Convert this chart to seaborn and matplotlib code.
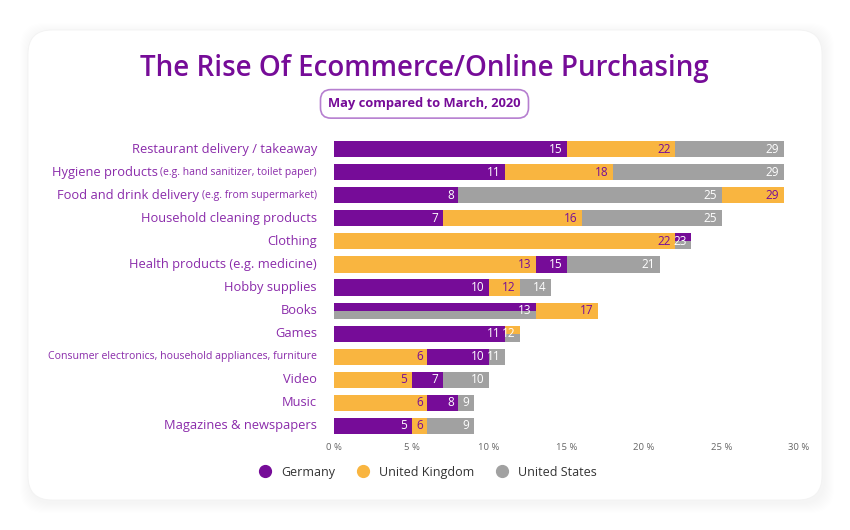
import matplotlib
matplotlib.use("Agg")
import matplotlib.pyplot as plt
import matplotlib.transforms as mtransforms
from matplotlib.patches import FancyBboxPatch
from matplotlib.lines import Line2D
import pandas as pd
import seaborn as sns

# data
categories = ["Restaurant delivery / takeaway", "Hygiene products", "Food and drink delivery",
              "Household cleaning products", "Clothing", "Health products (e.g. medicine)",
              "Hobby supplies", "Books", "Games",
              "Consumer electronics, household appliances, furniture",
              "Video", "Music", "Magazines & newspapers"]
label_notes = ["", "(e.g. hand sanitizer, toilet paper)", "(e.g. from supermarket)",
               "", "", "", "", "", "", "", "", "", ""]
germany = [15, 11, 8, 7, 23, 15, 10, 13, 11, 10, 7, 8, 5]
uk = [22, 18, 29, 16, 22, 13, 12, 17, 12, 6, 5, 6, 6]
us = [29, 29, 25, 25, 23, 21, 14, 13, 12, 11, 10, 9, 9]
countries = ["Germany", "United Kingdom", "United States"]
x_ticks = [0, 5, 10, 15, 20, 25, 30]

PURPLE = "#760C98"
ORANGE = "#F9B540"
GRAY = "#A1A1A1"
LABEL = "#8A2BAA"
palette = {"Germany": PURPLE, "United Kingdom": ORANGE, "United States": GRAY}

sns.set_style("white")
plt.rcParams["font.family"] = ["Open Sans", "DejaVu Sans"]

fig = plt.figure(figsize=(8.5, 5.3), dpi=100)
fig.patch.set_facecolor("white")
ident = mtransforms.IdentityTransform()

# card with a soft shadow (pixel coords)
for k in range(10, 0, -1):
    fig.add_artist(FancyBboxPatch((28 + 2, 30 - 3), 794, 470,
                                  boxstyle=f"round,pad={k},rounding_size=24",
                                  transform=ident, facecolor="#000000", alpha=0.004,
                                  edgecolor="none", zorder=-3))
fig.add_artist(FancyBboxPatch((28, 30), 794, 470, boxstyle="round,pad=0,rounding_size=24",
                              transform=ident, facecolor="white", edgecolor="#f2f2f2",
                              linewidth=0.6, zorder=-2))

ax = fig.add_axes([334 / 850, 1 - 437.5 / 530, 465 / 850, 300 / 530])
ax.set_facecolor("none")
ax.set_zorder(2)

# long table, with a draw layer per category (largest behind)
rows = []
for i, cat in enumerate(categories):
    vals = {"Germany": germany[i], "United Kingdom": uk[i], "United States": us[i]}
    order = sorted(countries, key=lambda c: -vals[c])
    for layer, c in enumerate(order):
        rows.append({"category": cat, "country": c, "value": vals[c], "layer": layer})
df = pd.DataFrame(rows)

for layer in range(3):
    sub = df[df["layer"] == layer]
    sns.barplot(data=sub, y="category", x="value", hue="country", order=categories,
                hue_order=countries, palette=palette, dodge=False, width=0.7,
                saturation=1, legend=False, ax=ax, errorbar=None, linewidth=0)

# equal values share the row: split the bar in two halves
color_idx = {matplotlib.colors.to_hex(palette[c]): n for n, c in enumerate(countries)}
groups = {}
for p in ax.patches:
    key = round(p.get_y() + p.get_height() / 2, 2)
    groups.setdefault(key, []).append(p)
for key, ps in groups.items():
    for a in ps:
        for b in ps:
            if a is not b and abs(a.get_width() - b.get_width()) < 1e-9:
                ia = color_idx[matplotlib.colors.to_hex(a.get_facecolor())]
                ib = color_idx[matplotlib.colors.to_hex(b.get_facecolor())]
                if ia < ib:
                    y0, h = a.get_y(), a.get_height()
                    a.set_height(h / 2)
                    b.set_y(y0 + h / 2)
                    b.set_height(h / 2)

# value labels
for i, cat in enumerate(categories):
    vals = {"Germany": germany[i], "United Kingdom": uk[i], "United States": us[i]}
    for v in sorted(set(vals.values())):
        owners = [c for c in countries if vals[c] == v]
        color = PURPLE if owners == ["United Kingdom"] else "white"
        ax.annotate(str(v), (v, i), xytext=(-3, 0), textcoords="offset points",
                    ha="right", va="center", fontsize=8.5, color=color)

ax.set_xlim(0, 30)
ax.set_ylim(len(categories) - 0.5, -0.5)
ax.set_xticks(x_ticks)
ax.set_xticklabels([f"{t} %" for t in x_ticks])
ax.tick_params(axis="x", length=0, labelsize=6.8, labelcolor="#666666", pad=4)
ax.set_yticks([])
ax.set_xlabel("")
ax.set_ylabel("")
sns.despine(ax=ax, left=True, bottom=True)

# category labels, some with a smaller note
fig.canvas.draw()
renderer = fig.canvas.get_renderer()
lab_tr = mtransforms.offset_copy(ax.get_yaxis_transform(), fig=fig, x=-17, y=0, units="dots")
for i, (cat, note) in enumerate(zip(categories, label_notes)):
    size = 7.6 if cat.startswith("Consumer") else 9.3
    if note:
        t = ax.text(0, i, note, transform=lab_tr, ha="right", va="center",
                    fontsize=7.5, color=LABEL)
        w = t.get_window_extent(renderer).width
        tr2 = mtransforms.offset_copy(ax.get_yaxis_transform(), fig=fig, x=-17 - w - 3, y=0,
                                      units="dots")
        ax.text(0, i, cat, transform=tr2, ha="right", va="center", fontsize=size, color=LABEL)
    else:
        ax.text(0, i, cat, transform=lab_tr, ha="right", va="center", fontsize=size, color=LABEL)

# title and subtitle pill
fig.text(0.499, 0.871, "The Rise Of Ecommerce/Online Purchasing", ha="center", va="center",
         fontsize=20, fontweight="semibold", color=PURPLE)
fig.text(0.4994, 0.804, "May compared to March, 2020", ha="center", va="center",
         fontsize=9.3, fontweight="bold", color=PURPLE,
         bbox=dict(boxstyle="round,pad=0.6,rounding_size=0.8", facecolor="white",
                   edgecolor="#B67FD0", linewidth=1.2))

handles = [Line2D([], [], marker="o", linestyle="", markersize=8.5, color=palette[c],
                  label=c) for c in countries]
leg = fig.legend(handles=handles, loc="center", bbox_to_anchor=(0.5, 0.109), ncol=3,
                 frameon=False, fontsize=9, handletextpad=0.3, columnspacing=1.2,
                 labelcolor="#333333")

fig.savefig("out.png", dpi=100)
